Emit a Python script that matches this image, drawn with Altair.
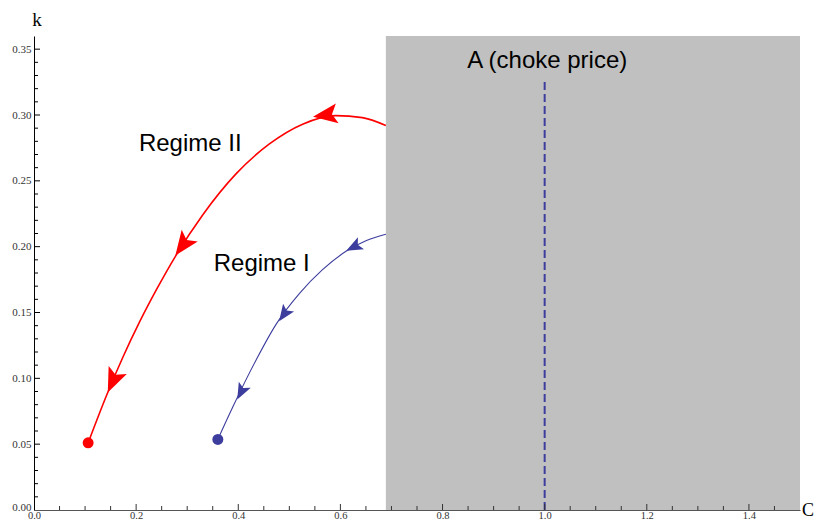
import altair as alt
import pandas as pd

# ---- data ----
red_x = [0.106, 0.142, 0.174, 0.207, 0.240, 0.279, 0.331, 0.396, 0.461, 0.526, 0.591, 0.643, 0.689]
red_y = [0.051, 0.087, 0.116, 0.143, 0.1675, 0.194, 0.2245, 0.2555, 0.278, 0.293, 0.2995, 0.298, 0.292]

blue_x = [0.360, 0.389, 0.435, 0.474, 0.520, 0.565, 0.611, 0.650, 0.689]
blue_y = [0.0536, 0.078, 0.114, 0.141, 0.1645, 0.1825, 0.1965, 0.2045, 0.2095]

red_arrow_x = [0.155, 0.292, 0.572]
red_arrow_y = [0.0985, 0.2015, 0.3]
red_arrow_ang = [204, 216, 262]

blue_arrow_x = [0.406, 0.490, 0.627]
blue_arrow_y = [0.090, 0.149, 0.2]
blue_arrow_ang = [207, 215, 243]

red_start = (0.106, 0.051)
blue_start = (0.360, 0.0536)

region_x = [0.689, 1.5]
region_y = [0.0, 0.36]

choke_x = 1.0
choke_top = 0.327

labels_text = ["Regime II", "Regime I", "A (choke price)"]
labels_x = [0.306, 0.446, 1.005]
labels_y = [0.278, 0.1867, 0.341]

x_major = [0.0, 0.2, 0.4, 0.6, 0.8, 1.0, 1.2, 1.4]
x_minor = [0.05, 0.1, 0.15, 0.25, 0.3, 0.35, 0.45, 0.5, 0.55, 0.65, 0.7, 0.75,
           0.85, 0.9, 0.95, 1.05, 1.1, 1.15, 1.25, 1.3, 1.35, 1.45]
y_major = [0.0, 0.05, 0.10, 0.15, 0.20, 0.25, 0.30, 0.35]
y_minor = [0.01, 0.02, 0.03, 0.04, 0.06, 0.07, 0.08, 0.09, 0.11, 0.12, 0.13, 0.14,
           0.16, 0.17, 0.18, 0.19, 0.21, 0.22, 0.23, 0.24, 0.26, 0.27, 0.28, 0.29,
           0.31, 0.32, 0.33, 0.34]

W, H = 766, 474
RED = "#ff0000"
BLUE = "#3d3d9e"
GRAY = "#c0c0c0"

xscale = alt.Scale(domain=[0, 1.5], nice=False, zero=False)
yscale = alt.Scale(domain=[0, 0.36], nice=False, zero=False)

xaxis = alt.Axis(values=x_major, format=".1f", ticks=False, tickSize=0, grid=False,
                 labelFont="Liberation Serif", labelFontSize=10.5, labelColor="#333333",
                 labelPadding=0, domainColor="#555555", domainWidth=1.2, title=None, zindex=1,
                 labelFlush=False)
yaxis = alt.Axis(values=y_major, format=".2f", ticks=False, tickSize=0, grid=False,
                 labelFont="Liberation Serif", labelFontSize=11, labelColor="#333333",
                 labelPadding=3, domainColor="#000000", domainWidth=1, title=None, zindex=1,
                 labelFlush=False,
                 labelBaseline=alt.expr("datum.value == 0 ? 'alphabetic' : 'middle'"))

X = lambda f: alt.X(f, type="quantitative", scale=xscale, axis=xaxis)
Y = lambda f: alt.Y(f, type="quantitative", scale=yscale, axis=yaxis)

rect_df = pd.DataFrame({"x0": [region_x[0]], "x1": [region_x[1]], "y0": [region_y[0]], "y1": [region_y[1]]})
rect = alt.Chart(rect_df).mark_rect(color=GRAY, opacity=1).encode(
    x=X("x0"), x2="x1", y=Y("y0"), y2="y1")

dash_df = pd.DataFrame({"x": [choke_x], "y0": [0.0], "y1": [choke_top]})
dash = alt.Chart(dash_df).mark_rule(color=BLUE, strokeWidth=2, strokeDash=[8, 4]).encode(
    x=X("x"), y=Y("y0"), y2="y1")

red_df = pd.DataFrame({"x": red_x, "y": red_y, "i": range(len(red_x))})
red_line = alt.Chart(red_df).mark_line(color=RED, strokeWidth=1.6, interpolate="monotone").encode(
    x=X("x"), y=Y("y"), order="i:Q")

blue_df = pd.DataFrame({"x": blue_x, "y": blue_y, "i": range(len(blue_x))})
blue_line = alt.Chart(blue_df).mark_line(color=BLUE, strokeWidth=1.1, interpolate="monotone").encode(
    x=X("x"), y=Y("y"), order="i:Q")

dart = "M0,-1L0.75,0.85L0,0.45L-0.75,0.85Z"
ra_df = pd.DataFrame({"x": red_arrow_x, "y": red_arrow_y, "a": red_arrow_ang})
red_arrows = alt.Chart(ra_df).mark_point(shape=dart, filled=True, opacity=1, size=700,
                                         color=RED, strokeWidth=0).encode(
    x=X("x"), y=Y("y"), angle=alt.Angle("a:Q", scale=None))

ba_df = pd.DataFrame({"x": blue_arrow_x, "y": blue_arrow_y, "a": blue_arrow_ang})
blue_arrows = alt.Chart(ba_df).mark_point(shape=dart, filled=True, opacity=1, size=320,
                                          color=BLUE, strokeWidth=0).encode(
    x=X("x"), y=Y("y"), angle=alt.Angle("a:Q", scale=None))

dots_df = pd.DataFrame({"x": [red_start[0], blue_start[0]], "y": [red_start[1], blue_start[1]],
                        "c": [RED, BLUE]})
dots = alt.Chart(dots_df).mark_point(shape="circle", filled=True, opacity=1, size=120, strokeWidth=0).encode(
    x=X("x"), y=Y("y"), color=alt.Color("c:N", scale=None))

lab_df = pd.DataFrame({"t": labels_text, "x": labels_x, "y": labels_y})
labels = alt.Chart(lab_df).mark_text(font="Liberation Sans", fontSize=24, color="black",
                                     align="center", baseline="middle").encode(
    x=X("x"), y=Y("y"), text="t:N")

xmaj = alt.Chart(pd.DataFrame({"v": x_major[1:]})).mark_rule(color="#333333", strokeWidth=1).encode(
    x=X("v"), y=alt.value(H), y2=alt.value(H - 6))
xmin = alt.Chart(pd.DataFrame({"v": x_minor})).mark_rule(color="#333333", strokeWidth=1).encode(
    x=X("v"), y=alt.value(H), y2=alt.value(H - 4))
ymaj = alt.Chart(pd.DataFrame({"v": y_major[1:]})).mark_rule(color="#000000", strokeWidth=1).encode(
    y=Y("v"), x=alt.value(0), x2=alt.value(6))
ymin = alt.Chart(pd.DataFrame({"v": y_minor})).mark_rule(color="#000000", strokeWidth=1).encode(
    y=Y("v"), x=alt.value(0), x2=alt.value(4))

k_lab = alt.Chart(pd.DataFrame({"t": ["k"]})).mark_text(
    font="Liberation Serif", fontSize=19, color="black", align="center", baseline="alphabetic").encode(
    x=alt.value(3), y=alt.value(-10), text="t:N")
c_lab = alt.Chart(pd.DataFrame({"t": ["C"]})).mark_text(
    font="Liberation Serif", fontSize=18, color="black", align="left", baseline="middle").encode(
    x=alt.value(768), y=alt.value(H + 1), text="t:N")

chart = alt.layer(rect, dash, red_line, blue_line, red_arrows, blue_arrows, dots, labels,
                  xmaj, xmin, ymaj, ymin, k_lab, c_lab).properties(
    width=W, height=H,
    autosize=alt.AutoSizeParams(type="none"),
    padding={"left": 26, "top": 28, "right": 14, "bottom": 9},
    background="white",
).configure_view(stroke=None)

chart.save("out.html", embed_options={"renderer": "svg", "actions": False})
